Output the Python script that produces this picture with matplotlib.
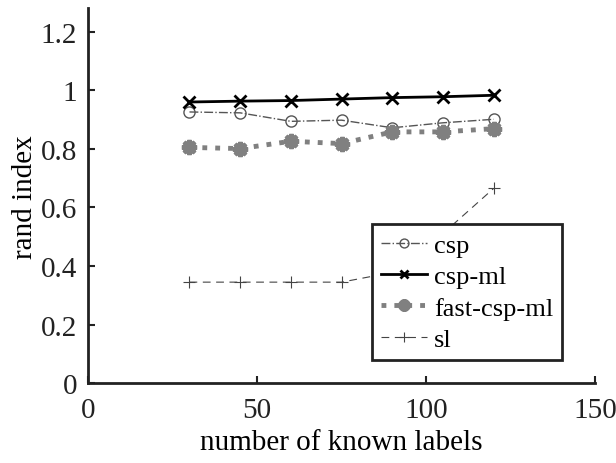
import matplotlib
matplotlib.use("Agg")
import matplotlib.pyplot as plt

plt.rcParams['font.family'] = ['Liberation Serif', 'DejaVu Serif']

x = [30, 45, 60, 75, 90, 105, 120]
csp = [0.926, 0.923, 0.894, 0.898, 0.872, 0.889, 0.901]
csp_ml = [0.960, 0.963, 0.965, 0.970, 0.975, 0.978, 0.983]
fast_csp_ml = [0.805, 0.801, 0.826, 0.818, 0.858, 0.858, 0.869]
sl = [0.345, 0.345, 0.345, 0.345, 0.378, 0.511, 0.665]

fig = plt.figure(figsize=(6.16, 4.64), dpi=100)
ax = fig.add_axes([0.143, 0.172, 0.823, 0.808])

ax.plot(x, csp, color='#555555', linestyle='-.', linewidth=1, marker='o',
        markerfacecolor='none', markersize=8, label='csp')
ax.plot(x, csp_ml, color='black', linestyle='-', linewidth=2, marker='x',
        markersize=8, markeredgewidth=2, label='csp-ml')
ax.plot(x, fast_csp_ml, color='#808080', linestyle=':', linewidth=3.5, marker=(8, 2, 0),
        markersize=11, markeredgewidth=3, label='fast-csp-ml')
ax.plot(x, sl, color='#444444', linestyle=(0, (7, 5)), linewidth=0.8, marker='+',
        markersize=9, markeredgewidth=0.8, label='sl')

ax.set_xlim(0, 150)
ax.set_ylim(0, 1.28)
ax.set_xticks([0, 50, 100, 150])
ax.set_yticks([0, 0.2, 0.4, 0.6, 0.8, 1, 1.2])
ax.set_yticklabels(['0', '0.2', '0.4', '0.6', '0.8', '1', '1.2'])
ax.spines['top'].set_visible(False)
ax.spines['right'].set_visible(False)
for s in ['left', 'bottom']:
    ax.spines[s].set_linewidth(2)
    ax.spines[s].set_color('#222222')
ax.tick_params(direction='in', length=5, width=1.5, labelsize=21, colors='#222222')
ax.tick_params(axis='x', pad=10)
ax.tick_params(axis='y', pad=8)
ax.set_xlabel('number of known labels', fontsize=21, labelpad=4)
ax.set_ylabel('rand index', fontsize=21, labelpad=2)

leg = ax.legend(loc='upper left', bbox_to_anchor=(0.56, 0.424), fontsize=19,
                fancybox=False, framealpha=1, edgecolor='#222222', handlelength=1.75,
                handletextpad=0.25, borderpad=0.35, labelspacing=0.3, borderaxespad=0,
                markerscale=0.8)
leg.get_frame().set_linewidth(2)

fig.savefig('out.png', dpi=100)
